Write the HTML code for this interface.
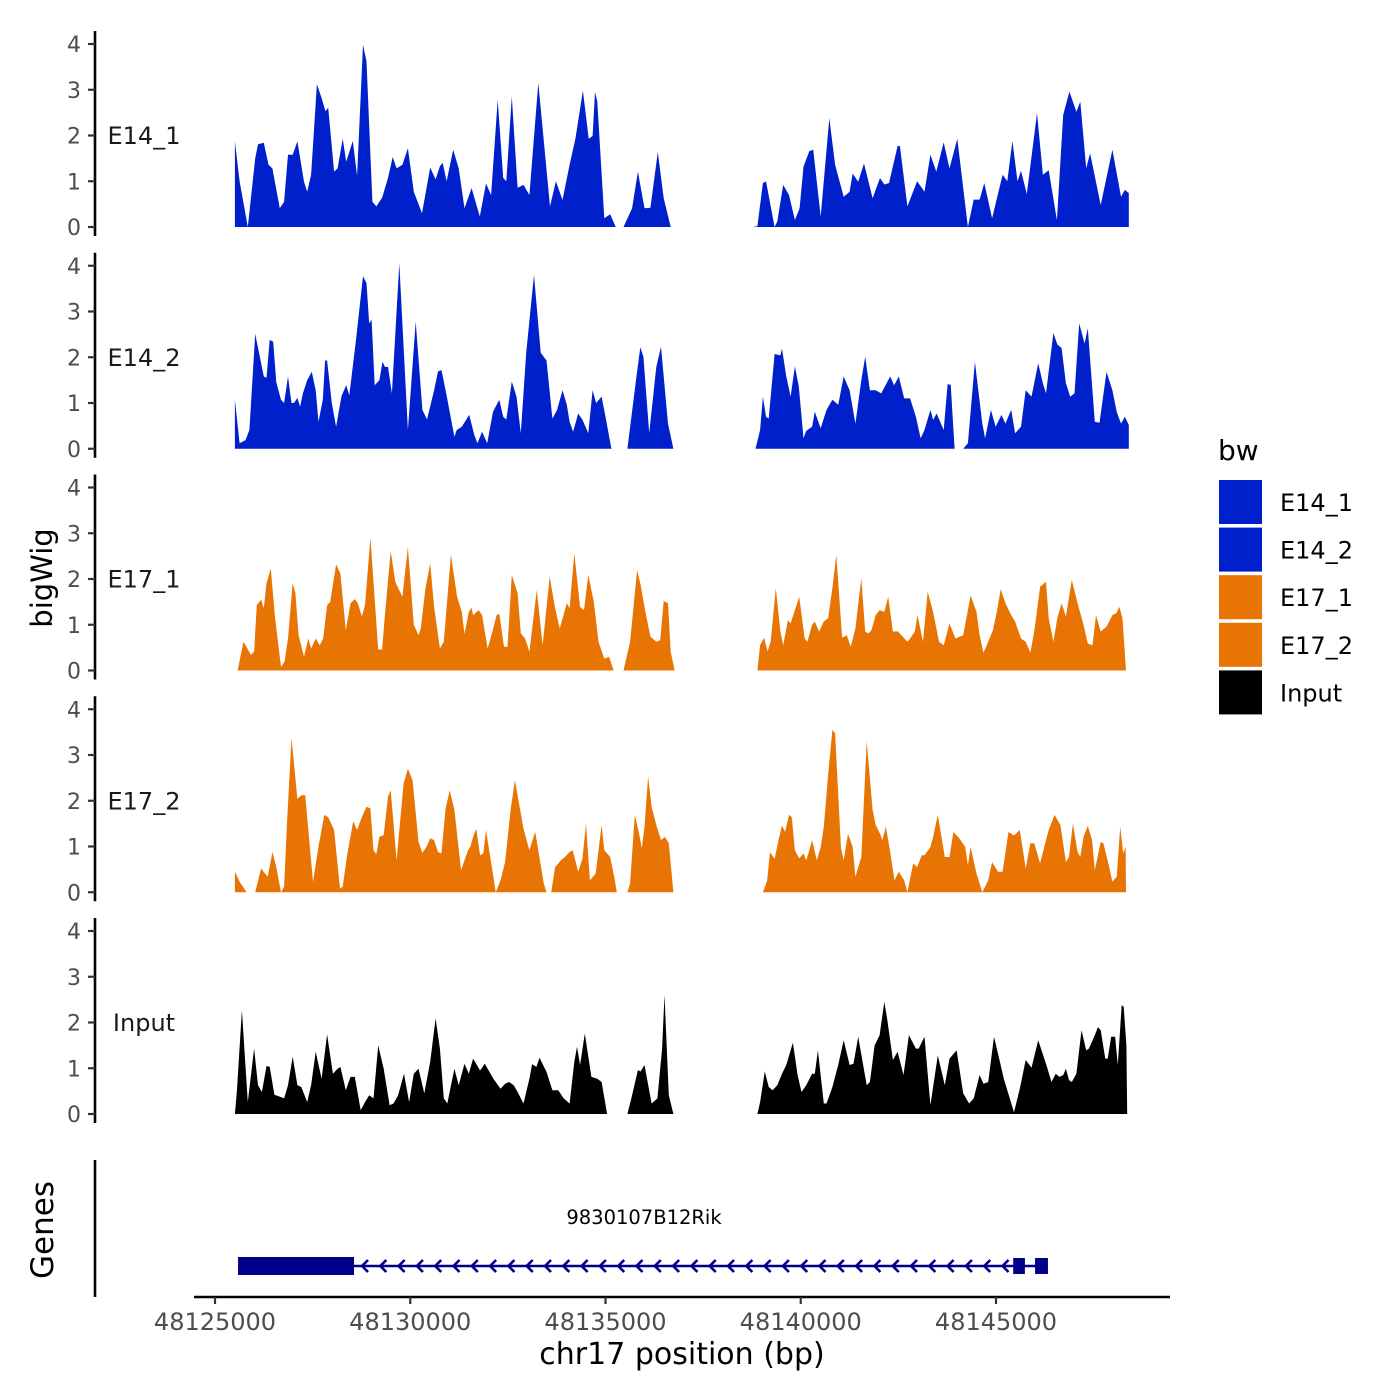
<!DOCTYPE html>
<html><head><meta charset="utf-8"><style>
body{margin:0;background:#fff;}
svg{display:block;font-family:"DejaVu Sans","Liberation Sans",sans-serif;}
</style></head><body>
<svg id="chart" width="1400" height="1400" viewBox="0 0 1400 1400" xmlns="http://www.w3.org/2000/svg">
<rect x="0" y="0" width="1400" height="1400" fill="#fff"/>
<g id="panels"></g>
<g id="genes"></g>
<g id="xaxis"></g>
<text x="52" y="578" transform="rotate(-90 52 578)" text-anchor="middle" font-size="29" fill="#000">bigWig</text>
<text x="53" y="1230" transform="rotate(-90 53 1230)" text-anchor="middle" font-size="31" fill="#000">Genes</text>
<text x="682" y="1364" text-anchor="middle" font-size="30" fill="#000">chr17 position (bp)</text>
<g id="legend">
<text x="1218" y="460" font-size="28" fill="#000">bw</text>
</g>
</svg>
<script>
// Region start (bp); positions below are kb offsets from this
const regionStart = 48125000;
const seriesNames = ["E14_1","E14_2","E17_1","E17_2","Input"];
const xTicks = [48125000,48130000,48135000,48140000,48145000];
const yTicks = [0,1,2,3,4];

const e14_1_pos = [0.51,0.63,0.84,1.03,1.10,1.25,1.37,1.47,1.66,1.77,1.87,1.99,2.11,2.28,2.36,2.46,2.61,2.73,2.83,2.90,3.05,3.14,3.27,3.36,3.53,3.64,3.79,3.88,4.03,4.13,4.28,4.43,4.55,4.65,4.80,4.94,5.09,5.30,5.51,5.65,5.76,5.83,5.93,6.10,6.24,6.39,6.57,6.78,6.94,7.07,7.24,7.38,7.46,7.60,7.75,7.90,8.05,8.28,8.58,8.73,8.90,9.08,9.23,9.42,9.57,9.67,9.73,9.79,9.97,10.12,10.26,10.46,10.68,10.83,11.00,11.15,11.34,11.49,11.67,
13.78,13.89,14.03,14.11,14.33,14.40,14.55,14.70,14.85,14.97,15.07,15.22,15.32,15.51,15.73,15.88,16.10,16.25,16.33,16.47,16.62,16.84,17.03,17.14,17.26,17.48,17.54,17.73,17.98,18.17,18.32,18.47,18.66,18.81,19.01,19.28,19.43,19.58,19.70,19.90,20.17,20.29,20.42,20.55,20.64,20.79,21.05,21.20,21.35,21.56,21.72,21.88,22.06,22.16,22.31,22.41,22.68,22.98,23.20,23.30,23.40];
const e14_1_val = [1.87,1.00,0,1.50,1.81,1.84,1.36,1.28,0.41,0.55,1.58,1.58,1.87,0.99,0.77,1.14,3.12,2.82,2.53,2.61,1.21,1.28,1.93,1.43,1.88,1.12,3.98,3.62,0.55,0.45,0.64,1.07,1.53,1.28,1.36,1.72,0.77,0.30,1.30,1.04,1.33,1.40,1.00,1.69,1.28,0.41,0.85,0.23,0.95,0.70,2.78,1.07,1.00,2.85,0.86,0.92,0.70,3.15,0.45,1.00,0.59,1.36,1.93,2.98,1.93,1.99,2.95,2.74,0.19,0.28,0,0,0.41,1.21,0.41,0.42,1.64,0.63,0,
0,0.02,0.96,1.00,0,0.12,0.92,0.70,0.15,0.41,1.32,1.66,1.69,0.23,2.38,1.36,0.66,0.77,1.17,0.99,1.39,0.63,1.07,0.93,0.96,1.77,1.77,0.45,1.00,0.77,1.58,1.21,1.85,1.28,1.93,0,0.60,0.60,0.96,0.19,1.14,1.00,1.88,1.00,1.23,0.72,2.49,1.14,1.24,0.15,2.45,2.96,2.52,2.74,1.28,1.61,0.48,1.69,0.66,0.81,0.74];

const e14_2_pos = [0.51,0.63,0.78,0.88,1.03,1.13,1.25,1.32,1.40,1.49,1.57,1.69,1.77,1.87,1.96,2.02,2.11,2.18,2.25,2.36,2.48,2.58,2.65,2.76,2.82,2.87,2.99,3.10,3.24,3.36,3.44,3.61,3.79,3.88,3.95,4.01,4.09,4.21,4.29,4.35,4.43,4.53,4.72,4.94,5.14,5.31,5.43,5.61,5.71,5.80,5.92,6.13,6.19,6.32,6.51,6.64,6.72,6.84,6.97,7.12,7.28,7.38,7.46,7.60,7.72,7.83,7.97,8.17,8.34,8.49,8.64,8.76,8.90,9.01,9.08,9.17,9.30,9.41,9.56,9.67,9.76,9.90,10.00,10.15,10.56,10.78,10.89,10.97,11.12,11.30,11.42,11.60,11.74,
13.84,13.96,14.03,14.11,14.18,14.33,14.48,14.52,14.63,14.74,14.85,14.95,15.07,15.14,15.29,15.36,15.51,15.66,15.81,15.96,16.10,16.25,16.40,16.55,16.65,16.77,16.92,17.06,17.29,17.39,17.51,17.65,17.80,17.95,18.07,18.17,18.32,18.39,18.48,18.66,18.76,18.84,18.94,19.16,19.28,19.46,19.65,19.72,19.87,19.99,20.14,20.24,20.39,20.49,20.64,20.76,20.91,21.08,21.20,21.28,21.47,21.57,21.68,21.79,21.90,22.01,22.13,22.27,22.35,22.53,22.65,22.83,22.98,23.09,23.20,23.30,23.40];
const e14_2_val = [1.07,0.12,0.19,0.41,2.51,2.09,1.58,1.55,2.38,2.34,1.45,1.07,1.00,1.58,1.00,1.00,1.11,0.92,1.21,1.50,1.68,1.28,0.59,1.07,1.93,1.93,1.00,0.48,1.15,1.39,1.17,2.38,3.77,3.62,2.74,2.82,1.39,1.50,1.90,1.79,1.79,1.21,4.05,0.41,2.78,0.85,0.64,1.28,1.69,1.72,1.21,0.26,0.41,0.48,0.74,0.30,0.12,0.37,0.12,0.81,1.07,0.70,0.64,1.47,1.14,0.34,2.10,3.80,2.10,1.93,0.66,0.85,1.28,0.96,0.59,0.37,0.77,0.63,0.34,1.28,1.00,1.14,0.70,0,0,1.50,2.22,2.01,0.34,1.79,2.23,0.55,0,
0,0.41,1.14,0.70,0.66,2.07,2.04,2.19,1.58,1.14,1.80,1.36,0.23,0.39,0.48,0.81,0.45,0.85,1.07,0.96,1.58,1.28,0.55,1.50,2.01,1.28,1.28,1.21,1.58,1.39,1.58,1.10,1.10,0.70,0.23,0.41,0.85,0.63,0.77,0.41,1.41,1.40,0,0,0.12,1.90,0.55,0.23,0.85,0.48,0.74,0.55,0.85,0.34,0.48,1.28,1.14,1.87,1.43,1.21,2.53,2.28,2.20,1.43,1.14,1.21,2.74,2.30,2.63,0.59,0.57,1.68,1.28,0.81,0.55,0.70,0.52];

const e17_1_pos = [0.58,0.73,0.92,1.00,1.07,1.18,1.25,1.32,1.43,1.54,1.69,1.78,1.87,1.99,2.06,2.14,2.28,2.39,2.46,2.58,2.68,2.77,2.87,2.95,3.10,3.21,3.35,3.47,3.58,3.66,3.76,3.84,3.98,4.18,4.28,4.35,4.50,4.62,4.80,4.94,5.09,5.21,5.27,5.39,5.51,5.61,5.76,5.86,6.04,6.20,6.32,6.39,6.50,6.57,6.61,6.75,6.84,6.98,7.09,7.21,7.28,7.40,7.49,7.60,7.75,7.83,7.94,8.05,8.24,8.39,8.57,8.71,8.83,9.01,9.08,9.20,9.35,9.45,9.56,9.70,9.82,9.97,10.09,10.21,10.46,10.63,10.81,10.90,11.03,11.15,11.30,11.40,11.49,11.60,11.67,11.77,
13.89,13.96,14.06,14.15,14.23,14.36,14.48,14.55,14.67,14.74,14.85,14.96,15.10,15.17,15.29,15.36,15.47,15.59,15.70,15.81,15.91,16.06,16.18,16.28,16.40,16.55,16.65,16.74,16.81,16.92,17.02,17.14,17.24,17.36,17.48,17.58,17.73,17.80,17.92,17.99,18.13,18.25,18.39,18.54,18.66,18.81,18.96,19.16,19.35,19.50,19.58,19.68,19.80,19.92,20.02,20.12,20.24,20.39,20.49,20.64,20.76,20.88,20.99,21.13,21.28,21.35,21.47,21.57,21.68,21.79,21.94,22.09,22.24,22.35,22.47,22.56,22.68,22.83,22.98,23.08,23.16,23.24,23.33];
const e17_1_val = [0,0.63,0.34,0.41,1.43,1.55,1.36,1.91,2.23,1.14,0.08,0.19,0.70,1.91,1.69,0.77,0.30,0.70,0.48,0.70,0.55,0.70,1.43,1.50,2.32,2.12,0.88,1.47,1.56,1.47,1.18,1.43,2.90,0.46,0.46,1.21,2.61,1.93,1.61,2.70,1.00,0.77,0.92,1.80,2.34,1.39,0.48,0.63,2.53,1.61,1.28,0.80,1.28,1.37,1.21,1.32,1.21,0.48,0.81,1.21,1.24,0.52,0.52,2.09,1.69,0.81,0.70,0.41,1.76,0.55,2.05,1.36,0.92,1.47,1.36,2.56,1.39,1.32,2.09,1.50,0.63,0.26,0.30,0,0,0.63,2.19,1.87,1.25,0.74,0.63,0.66,1.52,1.47,0.41,0,
0,0.55,0.72,0.42,0.63,1.80,0.85,0.55,1.10,1.03,1.32,1.61,0.70,0.63,1.00,1.07,0.85,1.07,1.14,1.80,2.53,0.72,0.77,0.52,0.92,2.02,0.85,0.81,0.88,1.21,1.32,1.28,1.61,0.85,0.86,0.77,0.63,0.70,0.85,1.21,0.63,1.72,1.28,0.63,0.55,1.03,0.70,0.77,1.64,1.28,0.77,0.39,0.63,0.88,1.28,1.78,1.47,1.21,1.07,0.70,0.63,0.39,0.92,1.83,1.94,1.14,0.63,1.14,1.47,1.18,1.98,1.47,1.00,0.59,0.55,1.21,0.85,0.96,1.21,1.25,1.39,1.14,0];

const e17_2_pos = [0.51,0.63,0.81,1.03,1.18,1.28,1.35,1.47,1.57,1.69,1.77,1.84,1.96,2.11,2.21,2.31,2.51,2.65,2.80,2.90,3.05,3.20,3.27,3.39,3.54,3.64,3.76,3.88,3.98,4.06,4.13,4.21,4.32,4.43,4.50,4.65,4.83,4.94,5.06,5.21,5.31,5.42,5.51,5.61,5.71,5.80,5.90,6.01,6.13,6.30,6.39,6.48,6.54,6.61,6.69,6.79,6.87,6.94,7.19,7.31,7.43,7.57,7.68,7.75,7.90,8.05,8.20,8.42,8.49,8.61,8.71,8.86,8.96,9.08,9.16,9.30,9.41,9.50,9.60,9.75,9.90,9.97,10.12,10.24,10.29,10.56,10.63,10.75,10.86,10.93,11.00,11.09,11.18,11.30,11.42,11.52,11.62,11.74,
14.03,14.14,14.21,14.33,14.43,14.52,14.60,14.70,14.77,14.85,14.96,15.07,15.14,15.22,15.29,15.41,15.51,15.59,15.70,15.81,15.88,16.03,16.10,16.21,16.33,16.40,16.55,16.69,16.84,16.92,17.03,17.09,17.18,17.29,17.40,17.51,17.65,17.73,17.88,17.98,18.10,18.17,18.32,18.39,18.51,18.69,18.81,18.91,19.06,19.21,19.28,19.35,19.50,19.65,19.80,19.90,20.05,20.17,20.32,20.46,20.61,20.76,20.88,20.98,21.13,21.28,21.35,21.50,21.65,21.79,21.87,21.97,22.09,22.16,22.24,22.35,22.46,22.53,22.68,22.75,22.90,22.98,23.09,23.18,23.26,23.32,23.33];
const e17_2_val = [0.45,0.23,0,0,0.52,0.41,0.34,0.88,0.55,0,0.12,1.47,3.37,2.04,2.12,2.12,0.23,1.00,1.69,1.64,1.36,0.08,0.12,0.85,1.55,1.36,1.64,1.87,1.83,0.92,0.83,1.21,1.25,2.09,2.23,0.70,2.38,2.70,2.45,1.10,0.86,1.00,1.18,1.14,0.88,0.85,1.80,2.23,1.80,0.48,0.70,0.92,1.00,1.21,1.39,0.81,0.85,1.36,0,0.26,0.66,1.80,2.45,2.12,1.39,0.92,1.32,0.19,0,0,0.55,0.70,0.77,0.88,0.92,0.45,0.74,1.50,0.26,0.41,1.47,0.92,0.77,0.26,0,0,0.19,1.69,1.28,0.96,1.43,2.53,1.87,1.47,1.14,1.21,1.07,0,
0,0.26,0.88,0.73,1.14,1.46,1.32,1.69,1.64,0.92,0.74,0.85,0.70,0.92,1.14,0.70,0.99,1.43,2.56,3.55,3.47,0.96,0.70,1.28,0.99,0.34,0.77,3.30,1.80,1.47,1.28,1.14,1.43,0.88,0.26,0.45,0.26,0,0.63,0.55,0.81,0.81,0.99,1.21,1.69,0.77,0.77,1.32,1.18,0.99,0.59,0.99,0.41,0,0.26,0.66,0.45,0.45,1.32,1.24,1.36,0.52,1.07,1.07,0.63,1.14,1.36,1.69,1.47,0.66,0.77,1.50,0.88,0.77,1.21,1.45,1.14,0.48,1.10,1.07,0.55,0.23,0.34,1.43,0.85,1.00,0];

const input_pos = [0.51,0.56,0.69,0.84,1.00,1.10,1.20,1.32,1.40,1.52,1.69,1.77,1.87,1.99,2.11,2.21,2.36,2.46,2.58,2.73,2.87,3.02,3.14,3.21,3.35,3.47,3.58,3.73,3.84,3.95,4.06,4.18,4.32,4.47,4.57,4.69,4.84,4.97,5.09,5.21,5.36,5.51,5.65,5.76,5.86,5.95,6.13,6.24,6.39,6.50,6.61,6.79,6.91,7.13,7.31,7.43,7.53,7.65,7.75,7.90,8.05,8.12,8.23,8.31,8.49,8.64,8.79,8.93,9.08,9.20,9.27,9.35,9.47,9.64,9.79,9.90,10.04,10.56,10.68,10.83,10.90,11.00,11.18,11.33,11.45,11.51,11.62,11.74,
13.89,13.96,14.08,14.18,14.28,14.40,14.52,14.63,14.80,14.92,15.02,15.14,15.29,15.36,15.44,15.59,15.66,15.81,15.96,16.10,16.25,16.35,16.47,16.69,16.77,16.89,17.02,17.14,17.21,17.36,17.48,17.63,17.77,17.95,18.02,18.17,18.32,18.51,18.69,18.81,18.99,19.16,19.31,19.43,19.58,19.68,19.80,19.95,20.10,20.20,20.46,20.61,20.76,20.91,21.08,21.28,21.42,21.53,21.62,21.72,21.79,21.87,21.94,22.06,22.19,22.31,22.38,22.53,22.61,22.68,22.80,22.86,22.95,23.05,23.12,23.22,23.27,23.34,23.36];
const input_val = [0,0.5,2.27,0.26,1.43,0.63,0.48,1.05,1.03,0.42,0.37,0.34,0.63,1.25,0.63,0.59,0.26,0.63,1.36,0.77,1.74,0.88,0.99,1.03,0.52,0.81,0.81,0.08,0.26,0.41,0.34,1.50,0.99,0.19,0.23,0.41,0.88,0.26,0.88,0.99,0.45,1.14,2.09,1.43,0.34,0.23,0.99,0.63,1.10,0.88,1.21,0.95,1.10,0.77,0.55,0.66,0.70,0.63,0.48,0.23,0.77,1.09,1.03,1.23,0.92,0.52,0.52,0.34,0.23,1.14,1.47,1.07,1.76,0.81,0.77,0.70,0,0,0.41,0.96,0.93,1.07,0.23,0.34,1.43,2.60,0.41,0,
0,0.26,0.93,0.59,0.52,0.63,0.88,1.07,1.56,0.85,0.48,0.63,0.88,0.88,1.39,0.23,0.23,0.59,1.07,1.61,1.07,1.10,1.69,0.63,0.70,1.50,1.72,2.45,2.09,1.18,1.36,0.85,1.72,1.43,1.43,1.69,0.19,1.28,0.63,1.21,1.39,0.45,0.23,0.34,0.85,0.66,0.70,1.69,1.14,0.77,0.04,0.55,1.18,1.01,1.61,1.10,0.70,0.88,0.81,0.85,0.99,0.74,0.70,0.88,1.83,1.39,1.43,1.72,1.90,1.83,1.21,1.21,1.69,1.69,1.07,2.38,2.34,1.50,0];

// Gene model (kb offsets)
const geneName = "9830107B12Rik";
const geneSpan = [0.59, 21.33];
const geneExons = [[0.59,3.56],[20.44,20.74],[21.0,21.33]];

const seriesPos = [e14_1_pos,e14_2_pos,e17_1_pos,e17_2_pos,input_pos];
const seriesVal = [e14_1_val,e14_2_val,e17_1_val,e17_2_val,input_val];
const seriesColor = ["#0020CC","#0020CC","#E87503","#E87503","#000000"];

const NS = "http://www.w3.org/2000/svg";
function mk(tag, attrs, parent){const e=document.createElementNS(NS,tag);for(const k in attrs)e.setAttribute(k,attrs[k]);parent.appendChild(e);return e;}
function xScale(kb){return 215 + kb*39.05;}
function xBp(bp){return xScale((bp-regionStart)/1000);}
function panelBase(i){return 227 + i*221.75;}
function yScale(i,v){return panelBase(i) - v*45.75;}

const panels = document.getElementById('panels');
for(let i=0;i<seriesNames.length;i++){
  const g = mk('g',{},panels);
  
  
  const base = panelBase(i);
  const ax = mk('line',{x1:95,x2:95,y1:base-196,y2:base+9,stroke:'#000','stroke-width':2.6},g);
  
  
  for(const t of yTicks){
    const y = yScale(i,t);
    const tk = mk('line',{x1:88,x2:95,y1:y,y2:y,stroke:'#333','stroke-width':2.2},g);
    
    
    const tl = mk('text',{x:81,y:y+8,'text-anchor':'end','font-size':22,fill:'#4d4d4d'},g);
    tl.textContent = t;
    
    
  }
  const lab = mk('text',{x:144,y:yScale(i,2)+8.5,'text-anchor':'middle','font-size':24,fill:'#1a1a1a'},g);
  lab.textContent = seriesNames[i];
  
  
  const pos = seriesPos[i], val = seriesVal[i];
  let pts = xScale(pos[0]).toFixed(1)+','+base;
  for(let j=0;j<pos.length;j++) pts += ' '+xScale(pos[j]).toFixed(1)+','+yScale(i,val[j]).toFixed(1);
  pts += ' '+xScale(pos[pos.length-1]).toFixed(1)+','+base;
  const area = mk('polygon',{points:pts,fill:seriesColor[i]},g);
  
  
}

// Genes track
const gg = document.getElementById('genes');
const gax = mk('line',{x1:95,x2:95,y1:1160,y2:1297,stroke:'#000','stroke-width':2.6},gg);


const gc = '#00008B';
const gl = mk('line',{x1:xScale(geneSpan[0]),x2:xScale(geneSpan[1]),y1:1266,y2:1266,stroke:gc,'stroke-width':2.5},gg);


for(const ex of geneExons){
  const big = ex[1]-ex[0]>1;
  const r = mk('rect',{x:xScale(ex[0]),y:big?1257:1258,width:xScale(ex[1])-xScale(ex[0]),height:big?18:16,fill:gc},gg);
  
  
}
for(let x=xScale(geneExons[0][1])+8; x<xScale(geneExons[1][0])-4; x+=18.3){
  const a = mk('polyline',{points:(x+6)+',1260 '+x+',1266 '+(x+6)+',1272',fill:'none',stroke:gc,'stroke-width':2.6},gg);
  
  
}
const gt = mk('text',{x:644,y:1224,'text-anchor':'middle','font-size':19.5,fill:'#000'},gg);
gt.textContent = geneName;



// X axis
const xa = document.getElementById('xaxis');
const xl = mk('line',{x1:194,x2:1170,y1:1297,y2:1297,stroke:'#000','stroke-width':2.6},xa);


for(const t of xTicks){
  const x = xBp(t);
  const tk = mk('line',{x1:x,x2:x,y1:1297,y2:1304,stroke:'#333','stroke-width':2.2},xa);
  
  
  const tl = mk('text',{x:x,y:1330,'text-anchor':'middle','font-size':24,fill:'#4d4d4d'},xa);
  tl.textContent = t;
  
  
}

// Legend
const lg = document.getElementById('legend');
const legColors = ["#0020CC","#0020CC","#E87503","#E87503","#000000"];
for(let i=0;i<seriesNames.length;i++){
  const y = 480 + i*47.6;
  const r = mk('rect',{x:1219,y:y,width:43,height:44,fill:legColors[i]},lg);
  
  
  const t = mk('text',{x:1280,y:y+31,'font-size':24,fill:'#000'},lg);
  t.textContent = seriesNames[i];
  
  
}
</script>
</body></html>
